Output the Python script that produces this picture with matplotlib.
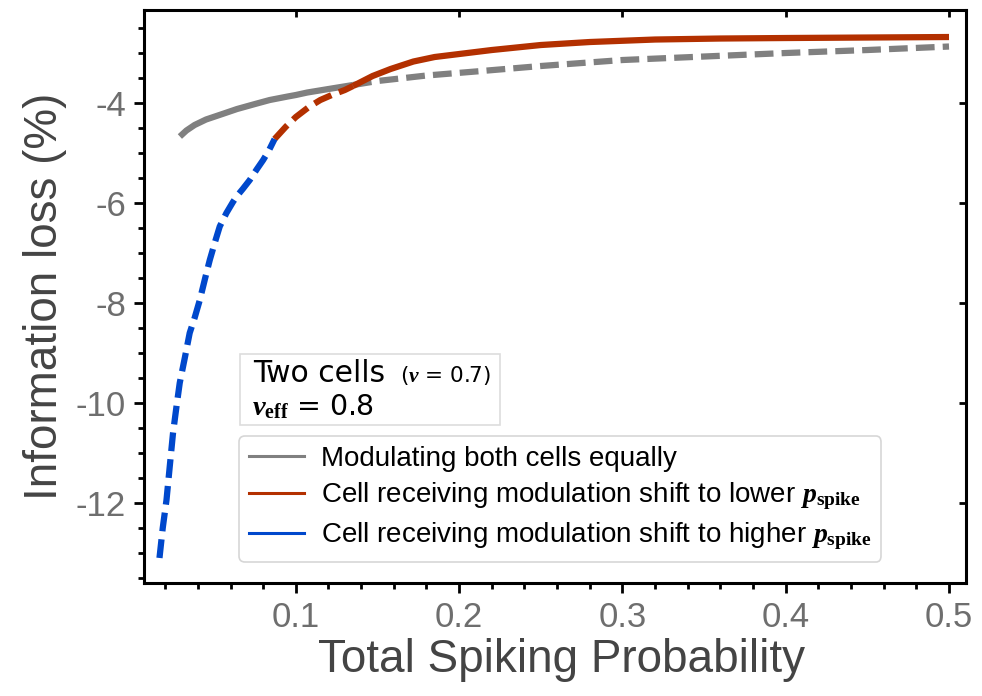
import matplotlib

matplotlib.use("Agg")
import matplotlib.pyplot as plt
from matplotlib.patches import Rectangle
from matplotlib.ticker import MultipleLocator

# mathtext: bold italic serif for variables, bold serif for subscripts
plt.rcParams["mathtext.fontset"] = "custom"
plt.rcParams["mathtext.it"] = "Liberation Serif:italic:bold"
plt.rcParams["mathtext.bf"] = "Liberation Serif:bold"
plt.rcParams["mathtext.rm"] = "Liberation Serif"
plt.rcParams["font.family"] = ["Liberation Sans", "DejaVu Sans"]

# modulating both cells equally (solid before crossing, dashed after)
gray_solid_x = [0.029, 0.033, 0.038, 0.045, 0.055, 0.064, 0.075, 0.084, 0.095, 0.100, 0.107, 0.120, 0.135]
gray_solid_y = [-4.67, -4.55, -4.44, -4.33, -4.22, -4.12, -4.02, -3.94, -3.87, -3.84, -3.79, -3.72, -3.64]
gray_dash_x = [0.135, 0.150, 0.180, 0.210, 0.250, 0.300, 0.350, 0.400, 0.450, 0.500]
gray_dash_y = [-3.64, -3.56, -3.45, -3.37, -3.26, -3.14, -3.07, -3.00, -2.94, -2.87]

# modulated cell shifted to lower p_spike
red_dash_x = [0.087, 0.094, 0.100, 0.108, 0.115, 0.122, 0.130, 0.135]
red_dash_y = [-4.72, -4.47, -4.28, -4.08, -3.94, -3.84, -3.74, -3.66]
red_solid_x = [0.135, 0.147, 0.158, 0.172, 0.185, 0.200, 0.220, 0.250, 0.280, 0.320, 0.360, 0.400, 0.450, 0.500]
red_solid_y = [-3.66, -3.46, -3.32, -3.17, -3.08, -3.02, -2.94, -2.84, -2.78, -2.73, -2.71, -2.70, -2.69, -2.68]

# modulated cell shifted to higher p_spike
blue_x = [0.0165, 0.0185, 0.0208, 0.023, 0.0248, 0.027, 0.0289, 0.032, 0.035, 0.038, 0.0412, 0.0445,
          0.0473, 0.0505, 0.0534, 0.0575, 0.0615, 0.0637, 0.0675, 0.0718, 0.076, 0.080, 0.0835, 0.087]
blue_y = [-13.1, -12.5, -11.94, -11.2, -10.6, -10.05, -9.6, -9.1, -8.6, -8.3, -7.94, -7.5,
          -7.14, -6.78, -6.47, -6.2, -5.98, -5.87, -5.72, -5.54, -5.33, -5.14, -4.95, -4.72]

labels = [
    "Modulating both cells equally",
    r"Cell receiving modulation shift to lower $p_{\mathbf{spike}}$",
    r"Cell receiving modulation shift to higher $p_{\mathbf{spike}}$",
]

GRAY = "#808080"
RED = "#b33000"
BLUE = "#0048cc"
DASH = (0, (3, 1.3))
LW = 4.5


def main():
    fig = plt.figure(figsize=(9.82, 6.96), dpi=100)
    ax = fig.add_axes([0.1466, 0.1624, 0.8371, 0.8232])

    ax.plot(gray_solid_x, gray_solid_y, color=GRAY, lw=LW, solid_capstyle="butt")
    ax.plot(gray_dash_x, gray_dash_y, color=GRAY, lw=LW, ls=DASH)
    ax.plot(red_dash_x, red_dash_y, color=RED, lw=LW, ls=DASH)
    ax.plot(red_solid_x, red_solid_y, color=RED, lw=LW, solid_capstyle="butt")
    ax.plot(blue_x, blue_y, color=BLUE, lw=LW, ls=DASH)

    ax.set_xlim(0.007, 0.5104)
    ax.set_ylim(-13.6, -2.14)
    ax.xaxis.set_major_locator(MultipleLocator(0.1))
    ax.xaxis.set_minor_locator(MultipleLocator(0.02))
    ax.yaxis.set_major_locator(MultipleLocator(2))
    ax.yaxis.set_minor_locator(MultipleLocator(0.5))
    ax.xaxis.set_major_formatter(lambda v, p: f"{v:.1f}")
    ax.yaxis.set_major_formatter(lambda v, p: f"{v:.0f}")

    for s in ax.spines.values():
        s.set_linewidth(2.2)
    ax.tick_params(which="major", direction="out", length=7, width=2, labelsize=25,
                   labelcolor="#6e6e6e", pad=6)
    ax.tick_params(which="minor", direction="out", length=4.5, width=2)

    # inward major ticks on top and right
    top = ax.secondary_xaxis("top")
    top.xaxis.set_major_locator(MultipleLocator(0.1))
    top.tick_params(direction="in", length=5, width=2, labeltop=False)
    right = ax.secondary_yaxis("right")
    right.yaxis.set_major_locator(MultipleLocator(2))
    right.tick_params(direction="in", length=5, width=2, labelright=False)

    ax.set_xlabel("Total Spiking Probability", fontsize=33, color="#444444", labelpad=3)
    ax.xaxis.label.set_x(0.508)
    ax.set_ylabel("Information loss (%)", fontsize=33, color="#444444", labelpad=6)

    # legend (short solid handles)
    handles = [plt.Line2D([], [], color=c, lw=2.2) for c in (GRAY, RED, BLUE)]
    leg = ax.legend(handles, labels, loc="lower left", bbox_to_anchor=(0.1156, 0.0367),
                    fontsize=20, frameon=True, handlelength=2.0, handletextpad=0.6,
                    labelspacing=0.3, borderpad=0.35, borderaxespad=0)
    leg.get_frame().set_edgecolor("#cccccc")
    leg.get_frame().set_linewidth(1.2)

    # annotation box
    ax.add_patch(Rectangle((0.1168, 0.2757), 0.3163, 0.124, transform=ax.transAxes,
                           facecolor="white", edgecolor="#dddddd", lw=1.2, zorder=4))
    ax.text(0.1326, 0.3508, "Two cells", transform=ax.transAxes, fontsize=21.5,
            family="DejaVu Sans", va="baseline", zorder=5)
    ax.text(0.3114, 0.3508, r"($\nu$ = 0.7)", transform=ax.transAxes, fontsize=15.5,
            family="DejaVu Sans", va="baseline", zorder=5)
    ax.text(0.1314, 0.2932, r"$\nu_{\mathbf{eff}}$ = 0.8", transform=ax.transAxes, fontsize=20.5,
            family="DejaVu Sans", va="baseline", zorder=5)

    fig.savefig("out.png", dpi=100)


if __name__ == "__main__":
    main()
